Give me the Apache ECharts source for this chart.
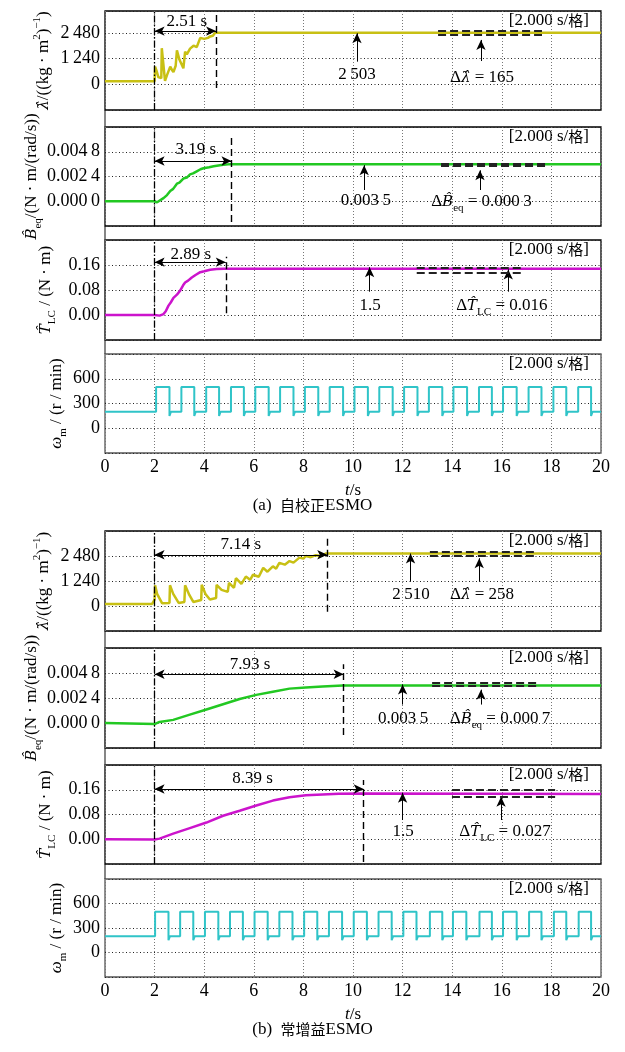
<!DOCTYPE html>
<html>
<head>
<meta charset="utf-8">
<script src="https://cdn.jsdelivr.net/npm/echarts@6/dist/echarts.min.js"></script>
<style>
  html, body { margin: 0; padding: 0; background: #fff; }
  #chart { width: 625px; height: 1052px; }
</style>
</head>
<body>
<div id="chart"></div>
<script>
// ---- curves: [t (s), value] ----
// (a) self-tuning ESMO
const lambdaA = [[0,150],[2.0,150],[2.02,860],[2.08,650],[2.15,350],[2.27,300],[2.29,1750],[2.36,900],[2.42,170],
  [2.5,450],[2.63,860],[2.7,700],[2.76,600],[2.85,900],[2.9,1650],[3.0,1200],[3.16,780],[3.23,1580],[3.3,1450],
  [3.43,1730],[3.5,1650],[3.57,1870],[3.7,1800],[3.77,1800],[3.84,2250],[4.0,2200],[4.04,2250],[4.15,2250],
  [4.24,2320],[4.35,2350],[4.44,2500],[20,2503]];
const bEqA = [[0,0],[2.0,0],[2.1,-0.0001],[2.36,0.0003],[2.5,0.0006],[2.63,0.001],[2.75,0.0012],[2.9,0.0017],
  [3.0,0.0018],[3.16,0.0022],[3.3,0.0023],[3.43,0.0026],[3.55,0.0027],[3.7,0.0029],[3.85,0.0031],[3.97,0.0032],
  [4.2,0.0033],[4.38,0.0034],[4.7,0.00352],[5.05,0.0036],[20,0.0036]];
const tLcA = [[0,0],[2.0,0],[2.2,-0.002],[2.36,0.003],[2.45,0.012],[2.56,0.03],[2.65,0.04],[2.76,0.055],[2.9,0.065],
  [3.03,0.078],[3.15,0.095],[3.23,0.104],[3.35,0.11],[3.5,0.12],[3.65,0.128],[3.84,0.137],[4.0,0.14],[4.24,0.145],
  [4.5,0.147],[4.78,0.148],[20,0.148]];
const speedA = [[0,200],[2.06,500],[2.6,150],[2.66,200],[3.08,500],[3.6,150],[3.66,200],[4.08,500],[4.6,150],[4.66,200],
  [5.08,500],[5.6,150],[5.66,200],[6.06,500],[6.6,150],[6.66,200],[7.06,500],[7.6,150],[7.66,200],[8.06,500],[8.6,150],
  [8.66,200],[9.06,500],[9.6,150],[9.66,200],[10.06,500],[10.6,150],[10.66,200],[11.06,500],[11.6,150],[11.66,200],
  [12.06,500],[12.6,150],[12.66,200],[13.06,500],[13.6,150],[13.66,200],[14.05,500],[14.6,150],[14.66,200],[15.08,500],
  [15.6,150],[15.66,200],[16.05,500],[16.6,150],[16.66,200],[17.08,500],[17.6,150],[17.66,200],[18.08,500],[18.6,150],
  [18.66,200],[19.08,500],[19.6,150],[19.66,200],[20,200]];
// (b) constant-gain ESMO
const lambdaB = [[0,100],[1.9,100],[2.0,320],[2.02,1030],[2.1,600],[2.3,140],[2.6,150],[2.62,1030],[2.75,600],[2.97,150],
  [3.2,200],[3.23,1030],[3.4,550],[3.56,200],[3.88,300],[3.9,1050],[4.05,600],[4.23,320],[4.48,400],[4.5,1050],
  [4.7,800],[4.95,700],[5.0,1150],[5.2,900],[5.28,1380],[5.5,1100],[5.68,1460],[5.85,1300],[5.97,1550],[6.2,1450],
  [6.38,1890],[6.55,1700],[6.77,1970],[6.9,1850],[7.03,2140],[7.25,2050],[7.44,2230],[7.6,2150],[7.84,2400],[8.0,2350],
  [8.1,2480],[8.3,2420],[8.5,2520],[8.7,2480],[8.9,2600],[20,2600]];
const bEqB = [[0,0],[2.0,-0.0001],[2.2,0.0001],[2.75,0.0003],[3.42,0.0008],[4.09,0.0013],[4.76,0.0018],[5.43,0.0023],
  [6.1,0.0027],[6.77,0.003],[7.44,0.0033],[8.1,0.0034],[8.77,0.0035],[9.59,0.0036],[20,0.0036]];
const tLcB = [[0,0],[2.0,-0.001],[2.2,0.002],[2.75,0.018],[3.42,0.036],[4.09,0.054],[4.76,0.076],[5.43,0.092],
  [6.1,0.109],[6.77,0.125],[7.44,0.136],[8.1,0.142],[8.77,0.145],[9.43,0.147],[10.34,0.148],[20,0.146]];
const speedB = [[0,200],[2.02,500],[2.56,150],[2.62,200],[3.03,500],[3.56,150],[3.62,200],[4.03,500],[4.57,150],[4.63,200],
  [5.04,500],[5.56,150],[5.62,200],[6.03,500],[6.56,150],[6.62,200],[7.03,500],[7.56,150],[7.62,200],[8.03,500],[8.56,150],
  [8.62,200],[9.03,500],[9.56,150],[9.62,200],[10.03,500],[10.56,150],[10.62,200],[11.03,500],[11.56,150],[11.62,200],
  [12.03,500],[12.56,150],[12.62,200],[13.1,500],[13.6,150],[13.66,200],[14.03,500],[14.57,150],[14.63,200],[15.1,500],
  [15.6,150],[15.66,200],[16.05,500],[16.6,150],[16.66,200],[17.1,500],[17.6,150],[17.66,200],[18.1,500],[18.6,150],
  [18.66,200],[19.1,500],[19.6,150],[19.66,200],[20,200]];

// ---- axis ticks ----
const lambdaTicks = [0, 1240, 2480], lambdaTickText = ['0', '1\u2009240', '2\u2009480'];
const bEqTicks = [0, 0.0024, 0.0048], bEqTickText = ['0.000\u20090', '0.002\u20094', '0.004\u20098'];
const tLcTicks = [0, 0.08, 0.16], tLcTickText = ['0.00', '0.08', '0.16'];
const speedTicks = [0, 300, 600], speedTickText = ['0', '300', '600'];

// ---- annotations (panels 1,2,3 of (a) then 1,2,3 of (b)) ----
const settleLabels = ['2.51 s', '3.19 s', '2.89 s', '7.14 s', '7.93 s', '8.39 s'];
const settleEndT = [4.48, 5.1, 4.87, 8.96, 9.62, 10.43];
const settleArrowV = [2580, 0.0039, 0.169, 2540, 0.00468, 0.1624];
const settleTextT = [3.3, 3.66, 3.46, 5.48, 5.85, 5.95];
const settleTextV = [3030, 0.00504, 0.195, 3026, 0.00565, 0.197];
const settleDashV = [[-176, 3356], [-0.002, 0.0062], [0.0053, 0.1866], [-283, 3373], [-0.00114, 0.00565], [-0.0735, 0.1915]];

const steadyLabels = ['2\u2009503', '0.003\u20095', '1.5', '2\u2009510', '0.003\u20095', '1.5'];
const steadyArrowT = [10.16, 10.45, 10.67, 12.32, 12.0, 12.0];
const steadyArrowV = [[1100, 2470], [0.00109, 0.0035], [0.0746, 0.153], [1205, 2600], [0.00177, 0.0037], [0.0622, 0.15]];
const steadyTextT = [10.16, 10.52, 10.69, 12.34, 12.02, 12.02];
const steadyTextV = [453, 0.0001, 0.0288, 546, 0.00041, 0.0234];

const rippleLabels = [
  '{n|Δ}{h|λ\u0302}{n| = 165}',
  '{n|Δ}{h|B\u0302}{sub|eq}{n| = 0.000\u20093}',
  '{n|Δ}{h|T\u0302}{sub|LC}{n| = 0.016}',
  '{n|Δ}{h|λ\u0302}{n| = 258}',
  '{n|Δ}{h|B\u0302}{sub|eq}{n| = 0.000\u20097}',
  '{n|Δ}{h|T\u0302}{sub|LC}{n| = 0.027}'
];
const rippleArrowT = [15.16, 15.12, 16.26, 15.09, 15.16, 15.97];
const rippleArrowV = [[1130, 2150], [0.00109, 0.003], [0.0746, 0.146], [1205, 2370], [0.00177, 0.0032], [0.0622, 0.1375]];
const rippleTextT = [15.2, 15.18, 16.0, 15.2, 15.93, 16.13];
const rippleTextV = [308, -0.00004, 0.029, 546, 0.00041, 0.0234];
const bandT = [[13.43, 17.62], [13.55, 17.8], [12.57, 16.8], [13.1, 17.41], [13.19, 17.46], [13.99, 18.15]];
const bandV = [[2420, 2585], [0.00342, 0.00368], [0.1354, 0.1514], [2490, 2700], [0.00354, 0.00387], [0.1375, 0.1614]];

const serif = 'Liberation Serif';
const cjk = 'Noto Sans CJK SC';
const rich = {
  n: { fontFamily: serif, fontSize: 17, lineHeight: 24, verticalAlign: 'middle', color: '#000' },
  i: { fontFamily: serif, fontSize: 17, fontStyle: 'italic', lineHeight: 24, verticalAlign: 'middle', color: '#000' },
  // hatted symbols: DejaVu places the combining circumflex properly
  h: { fontFamily: 'DejaVu Serif', fontSize: 15, fontStyle: 'italic', lineHeight: 24, verticalAlign: 'middle', color: '#000' },
  sub: { fontFamily: serif, fontSize: 11, lineHeight: 11, verticalAlign: 'bottom', color: '#000' },
  sup: { fontFamily: serif, fontSize: 11, lineHeight: 11, verticalAlign: 'top', color: '#000' },
  c: { fontFamily: cjk, fontSize: 15, lineHeight: 24, verticalAlign: 'middle', color: '#000' }
};

const tops = [11, 127, 240, 354, 531, 648, 765, 879];
const heights = [99, 99, 100, 99, 100, 100, 99, 98];
const curves = [lambdaA, bEqA, tLcA, speedA, lambdaB, bEqB, tLcB, speedB];
const colors = ['#c8c014', '#22c822', '#cc14cc', '#30c4c8'];
const ranges = [[-1240, 3550, 1240], [-0.0024, 0.0072, 0.0024], [-0.08, 0.24, 0.08], [-300, 900, 300]];
const ranges2 = [[-1240, 3720, 1240], [-0.0024, 0.0072, 0.0024], [-0.08, 0.24, 0.08], [-300, 900, 300]];
const ticks = [[lambdaTicks, lambdaTickText], [bEqTicks, bEqTickText], [tLcTicks, tLcTickText], [speedTicks, speedTickText]];
const names = [
  '{h|λ\u0302}{n|/((kg · m}{sup|2}{n|)}{sup|−1}{n|)}',
  '{h|B\u0302}{sub|eq}{n|/(N · m/(rad/s))}',
  '{h|T\u0302}{sub|LC}{n| / (N · m)}',
  '{i|ω}{sub|m}{n| / (r / min)}'
];
const nameGaps = [49, 61, 47, 36];

const grid = [], xAxis = [], yAxis = [], series = [];
for (let p = 0; p < 8; p++) {
  const k = p % 4;
  const rg = p < 4 ? ranges[k] : ranges2[k];
  grid.push({
    left: 105, width: 496, top: tops[p], height: heights[p],
    show: true, borderColor: k === 3 ? '#555' : '#000', borderWidth: 1.3, backgroundColor: 'transparent'
  });
  xAxis.push({
    gridIndex: p, type: 'value', min: 0, max: 20, interval: 2,
    axisLine: { show: false }, axisTick: { show: false },
    axisLabel: { show: k === 3, fontFamily: serif, fontSize: 18, color: '#000', margin: 5 },
    splitLine: { lineStyle: { type: [1, 2], color: '#777', width: 1 } },
    name: k === 3 ? '{i|t}{n|/s}' : '', nameLocation: 'middle', nameGap: 26, nameMoveOverlap: false,
    nameTextStyle: { rich: rich }
  });
  const tk = ticks[k];
  yAxis.push({
    gridIndex: p, type: 'value', min: rg[0], max: rg[1], interval: rg[2],
    axisLine: { show: false }, axisTick: { show: false },
    axisLabel: {
      fontFamily: serif, fontSize: 18, color: '#000', margin: 5,
      formatter: function (v) {
        const i = tk[0].findIndex(t => Math.abs(t - v) < rg[2] * 1e-3);
        return i < 0 ? '' : tk[1][i];
      }
    },
    splitLine: { lineStyle: { type: [1, 2.5], color: '#222', width: 1 } },
    name: names[k], nameLocation: 'middle', nameRotate: 90, nameGap: nameGaps[k], nameMoveOverlap: false,
    nameTextStyle: { rich: rich }
  });

  const s = {
    type: 'line', xAxisIndex: p, yAxisIndex: p, data: curves[p],
    symbol: 'none', showSymbol: false, animation: false, silent: true,
    step: k === 3 ? 'end' : false,
    lineStyle: { color: colors[k], width: k === 3 ? 2 : 2.5 }, itemStyle: { color: colors[k] }
  };
  if (k < 3) {
    const a = (p < 4 ? 0 : 3) + k;
    const thin = { color: '#000', width: 1, type: 'solid' };
    const dash = { color: '#000', width: 1.4, type: [7, 4] };
    s.markLine = {
      silent: true, animation: false, symbol: ['none', 'none'], symbolSize: [7, 10],
      label: { show: false }, emphasis: { disabled: true },
      data: [
        [{ coord: [2, rg[0]], lineStyle: { color: '#000', width: 1.3, type: [7, 2, 1.5, 2] } }, { coord: [2, rg[1]] }],
        [{ coord: [settleEndT[a], settleDashV[a][0]], lineStyle: dash }, { coord: [settleEndT[a], settleDashV[a][1]] }],
        [{ coord: [2, settleArrowV[a]], symbol: 'arrow', lineStyle: thin }, { coord: [settleEndT[a], settleArrowV[a]], symbol: 'arrow' }],
        [{ coord: [steadyArrowT[a], steadyArrowV[a][0]], lineStyle: thin }, { coord: [steadyArrowT[a], steadyArrowV[a][1]], symbol: 'arrow' }],
        [{ coord: [rippleArrowT[a], rippleArrowV[a][0]], lineStyle: thin }, { coord: [rippleArrowT[a], rippleArrowV[a][1]], symbol: 'arrow' }],
        [{ coord: [bandT[a][0], bandV[a][0]], lineStyle: { color: '#222', width: 2.2, type: [8, 4] } }, { coord: [bandT[a][1], bandV[a][0]] }],
        [{ coord: [bandT[a][0], bandV[a][1]], lineStyle: { color: '#222', width: 2.2, type: [8, 4] } }, { coord: [bandT[a][1], bandV[a][1]] }]
      ]
    };
    const txt = (t, v, str) => ({
      coord: [t, v], symbolSize: 0,
      label: { show: true, position: 'inside', rich: rich, formatter: () => str }
    });
    s.markPoint = {
      silent: true, animation: false, symbol: 'circle', symbolSize: 0,
      data: [
        txt(settleTextT[a], settleTextV[a], '{n|' + settleLabels[a] + '}'),
        txt(steadyTextT[a], steadyTextV[a], '{n|' + steadyLabels[a] + '}'),
        txt(rippleTextT[a], rippleTextV[a], rippleLabels[a])
      ]
    };
  }
  series.push(s);
}

const graphic = [];
for (let p = 0; p < 8; p++) {
  graphic.push({
    type: 'text', right: 625 - 589, top: tops[p] + 1,
    style: { text: '{n|[2.000 s/}{c|格}{n|]}', rich: rich }
  });
  if (p % 4 < 3) {
    graphic.push({
      type: 'line', shape: { x1: 105, y1: tops[p] + heights[p], x2: 105, y2: tops[p + 1] },
      style: { stroke: '#444', lineWidth: 1.3 }
    });
  }
}
graphic.push({ type: 'text', left: 'center', top: 497, style: { text: '{n|(a)  }{c|自校正}{n|ESMO}', rich: rich } });
graphic.push({ type: 'text', left: 'center', top: 1021, style: { text: '{n|(b)  }{c|常增益}{n|ESMO}', rich: rich } });

const chart = echarts.init(document.getElementById('chart'), null, { renderer: 'canvas' });
chart.setOption({
  animation: false,
  backgroundColor: '#fff',
  grid: grid,
  xAxis: xAxis,
  yAxis: yAxis,
  series: series,
  graphic: graphic
});
</script>
</body>
</html>
